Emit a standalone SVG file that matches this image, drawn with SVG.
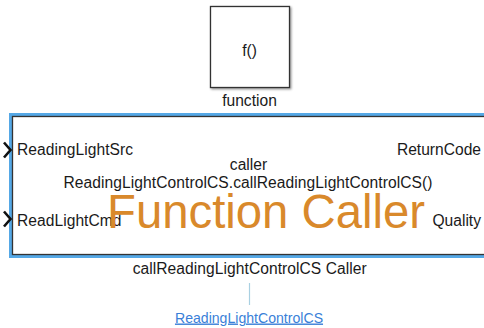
<svg xmlns="http://www.w3.org/2000/svg" width="484" height="328" viewBox="0 0 484 328">
  <style>
    text { font-family: "Liberation Sans", Arial, sans-serif; fill: #1a1a1a; }
    .lbl { font-size: 15.6px; }
    .mid { text-anchor: middle; }
    .end { text-anchor: end; }
    .blk { fill: #ffffff; stroke: #333333; stroke-width: 1.3; }
    .port { fill: none; stroke: #111111; stroke-width: 2.6; stroke-linejoin: miter; }
    .big { font-size: 47.3px; fill: #d9892b; }
    .link { font-size: 14.1px; fill: #3a7fd8; text-decoration: underline; }
    .conn { stroke: #a9d0e2; stroke-width: 1.2; fill: none; }
  </style>
  <defs>
    <filter id="shadow" x="-10%" y="-10%" width="130%" height="130%">
      <feDropShadow dx="1.2" dy="1.2" stdDeviation="0.8" flood-color="#000000" flood-opacity="0.45"/>
    </filter>
  </defs>

  <rect width="484" height="328" fill="#ffffff"/>

  <!-- function-call generator -->
  <g id="function">
    <rect class="blk" x="210.5" y="6.5" width="79" height="81" filter="url(#shadow)"/>
    <text class="lbl mid" x="249.5" y="55.5">f()</text>
    <text class="lbl mid" x="249.5" y="106">function</text>
  </g>

  <!-- Function Caller block (selected) -->
  <g id="caller">
    <rect x="10.5" y="114.5" width="490" height="142" fill="none" stroke="#55a8e6" stroke-width="3"/>
    <rect class="blk" x="12.5" y="116.5" width="490" height="138"/>
    <path class="port" d="M4 142.5 L10.5 150 L4 157.5"/>
    <path class="port" d="M4 211.5 L10.5 219 L4 226.5"/>
    <text class="lbl" x="17" y="154.5" textLength="116">ReadingLightSrc</text>
    <text class="lbl" x="17" y="226" textLength="104.5">ReadLightCmd</text>
    <text class="lbl end" x="481" y="154.5">ReturnCode</text>
    <text class="lbl end" x="481" y="225.5">Quality</text>
    <text class="lbl mid" x="248.5" y="170">caller</text>
    <text class="lbl mid" x="248" y="187.5" textLength="369">ReadingLightControlCS.callReadingLightControlCS()</text>
    <text class="big" x="107" y="227.5" textLength="318">Function Caller</text>
    <text class="lbl mid" x="249.7" y="274" textLength="234">callReadingLightControlCS Caller</text>
  </g>

  <g id="connectors">
    <line class="conn" x1="249.5" y1="283" x2="249.5" y2="305"/>
  </g>

  <g id="reference">
    <text class="link mid" x="249" y="322.5">ReadingLightControlCS</text>
  </g>
</svg>
